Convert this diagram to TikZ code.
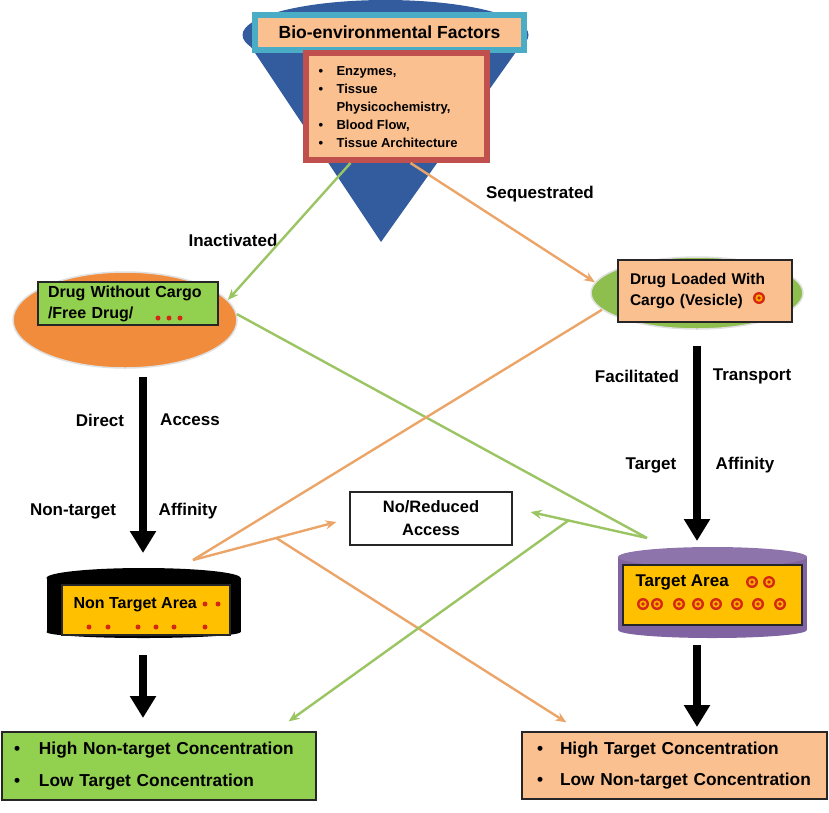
\documentclass[tikz,border=0pt]{standalone}
\usepackage{fontspec}
\setmainfont{Liberation Sans}
\usetikzlibrary{shapes.geometric,arrows.meta,positioning,calc}

\definecolor{peach}{RGB}{250,192,144}
\definecolor{leaf}{RGB}{146,208,80}
\definecolor{olive}{RGB}{142,190,78}
\definecolor{tang}{RGB}{240,140,60}
\definecolor{amber}{RGB}{255,192,0}
\definecolor{plum}{RGB}{128,100,162}
\definecolor{frameteal}{RGB}{75,172,198}
\definecolor{brick}{RGB}{192,80,77}
\definecolor{coneblue}{RGB}{50,92,158}
\definecolor{lineor}{RGB}{236,165,105}
\definecolor{linegr}{RGB}{155,196,98}
\definecolor{dotred}{RGB}{210,40,20}

\newcommand{\blt}{\makebox[18pt][l]{\textbullet}}

\begin{document}
\begin{tikzpicture}[x=1pt,y=-1pt,
  lbl/.style={font=\bfseries\fontsize{17}{19}\selectfont},
  framed/.style={draw=black!85, line width=1.2pt},
  bigarrow/.style={line width=8pt, -{Triangle[width=25pt,length=22pt]}},
  orline/.style={draw=lineor, line width=2.4pt},
  grline/.style={draw=linegr, line width=2.4pt},
  tip/.style={-{Stealth[length=11pt,width=9pt]}},
  tgt/.pic={\fill[dotred] (0,0) circle[radius=6];
            \fill[amber!70!orange] (0,0) circle[radius=3.6];
            \fill[dotred] (0,0) circle[radius=1.8];}
]
\useasboundingbox (0,0) rectangle (829,812);

% funnel
\fill[coneblue] (243,35) -- (381,242) -- (528,35) -- cycle;
\fill[coneblue] (385.5,35) ellipse[x radius=143, y radius=35];

\node[draw=frameteal, line width=6pt, fill=peach, minimum width=269, minimum height=35,
      font=\bfseries\fontsize{17.5}{20}\selectfont] (bio) at (389.5,32.5) {Bio-environmental Factors};
\node[draw=brick, line width=6pt, fill=peach, minimum width=181, minimum height=107] (fac) at (396.5,106.5) {};
\node[anchor=west, align=left, font=\bfseries\fontsize{13}{18}\selectfont] (facList) at (315,107)
  {\blt Enzymes,\\ \blt Tissue\\ \makebox[18pt]{}Physicochemistry,\\ \blt Blood Flow,\\ \blt Tissue Architecture};

% drug states
\node[ellipse, fill=tang, draw=gray!25, line width=1.5pt, minimum width=224, minimum height=96] (freeE) at (125,320) {};
\node[framed, fill=leaf, text width=160, inner xsep=10, inner ysep=0, minimum height=43, align=left,
      font=\bfseries\fontsize{16}{21}\selectfont] (freeBox) at (128,303.5) {Drug Without Cargo\\/Free Drug/};
\foreach \x in {158,169,180} \fill[dotred] (\x,318) circle[radius=2.5];

\node[ellipse, fill=olive, draw=gray!25, line width=1.5pt, minimum width=212, minimum height=72] (loadE) at (697,293) {};
\node[framed, fill=peach, text width=150, inner xsep=12, inner ysep=0, minimum height=62, align=left,
      font=\bfseries\fontsize{15.5}{21}\selectfont] (loadBox) at (705,291) {Drug Loaded With\\Cargo (Vesicle)};
\pic at (759,298) {tgt};

\node[lbl] (inact) at (233,240) {Inactivated};
\node[lbl] (seq) at (540,194) {Sequestrated};

% thick arrows
\coordinate (ntTop) at (143,553);
\coordinate (tTop) at (697,541);
\draw[bigarrow] (freeE.south) ++(18,8) coordinate (fS) -- (ntTop);
\draw[bigarrow] (loadE.south) ++(0,16) coordinate (lS) -- (tTop);
\node[lbl] at (100,420) {Direct};
\node[lbl] at (190,420) {Access};
\node[lbl] at (73,511) {Non-target};
\node[lbl] at (188,511) {Affinity};
\node[lbl] at (637,376) {Facilitated};
\node[lbl] at (752,376) {Transport};
\node[lbl] at (651,465) {Target};
\node[lbl] at (745,465) {Affinity};

% areas
\fill[black] (46.5,578) rectangle (240.5,632);
\fill[black] (143.5,632) ellipse[x radius=97, y radius=6];
\fill[black] (143.5,578) ellipse[x radius=97, y radius=10];
\node[framed, fill=amber, minimum width=168, minimum height=50] (ntBox) at (146,610) {};
\node[anchor=west, font=\bfseries\fontsize{16}{19}\selectfont] (ntText) at (70,605) {Non Target Area};
\foreach \x in {205,218} \fill[dotred] (\x,604) circle[radius=2.5];
\foreach \x in {89,108,138,156,174,205} \fill[dotred] (\x,627) circle[radius=2.5];

\fill[plum] (618,557) rectangle (807,630);
\fill[plum] (712.5,630) ellipse[x radius=94.5, y radius=8];
\fill[plum!90!white] (712.5,557) ellipse[x radius=94.5, y radius=10];
\node[framed, fill=amber, minimum width=179, minimum height=60] (tBox) at (712.5,595) {};
\node[anchor=west, font=\bfseries\fontsize{17}{20}\selectfont] (tText) at (632,582) {Target Area};
\foreach \x in {752,769} \pic at (\x,582) {tgt};
\foreach \x in {643,657,679,698,716,737,758,780} \pic at (\x,604) {tgt};

\node[framed, fill=white, minimum width=162, minimum height=53, align=center,
      font=\bfseries\fontsize{16.5}{23}\selectfont] (nora) at (431,518.5) {No/Reduced\\Access};

% outcomes
\node[framed, fill=leaf, minimum width=314, minimum height=68, text width=290, inner xsep=12, align=left,
      font=\bfseries\fontsize{17.3}{32}\selectfont] (hiNT) at (159,766)
  {\makebox[25pt][l]{\textbullet}High Non-target Concentration\\\makebox[25pt][l]{\textbullet}Low Target Concentration};
\node[framed, fill=peach, minimum width=305, minimum height=67, text width=275, inner xsep=15, align=left,
      font=\bfseries\fontsize{17.3}{31}\selectfont] (hiT) at (674.5,765.5)
  {\makebox[23pt][l]{\textbullet}High Target Concentration\\\makebox[23pt][l]{\textbullet}Low Non-target Concentration};
\draw[bigarrow] (143,655) -- (143,718);
\draw[bigarrow] (697,645) -- (697,727);

% thin routes
\coordinate (ntJ) at (193,560);
\coordinate (tJ) at (647,538);
\coordinate (orTip) at ([shift={(-13,3.5)}]nora.west);
\coordinate (grTip) at ([shift={(18,-6.5)}]nora.east);
\coordinate (orFork) at ($(ntJ)!0.58!(orTip)$);
\coordinate (grFork) at ($(tJ)!0.675!(grTip)$);

\draw[grline, tip] ([xshift=-46pt]fac.south) -- (freeE.11);
\draw[orline, tip] ([xshift=14pt]fac.south) -- (loadE.174);
\draw[grline] (freeE.3) -- (tJ);
\draw[orline] (loadE.190) -- (ntJ);
\draw[orline, tip] (ntJ) -- (orTip);
\draw[grline, tip] (tJ) -- (grTip);
\draw[orline, tip] (orFork) -- ([shift={(45,-9)}]hiT.north west);
\draw[grline, tip] (grFork) -- ([shift={(-28,-10)}]hiNT.north east);

\end{tikzpicture}
\end{document}
